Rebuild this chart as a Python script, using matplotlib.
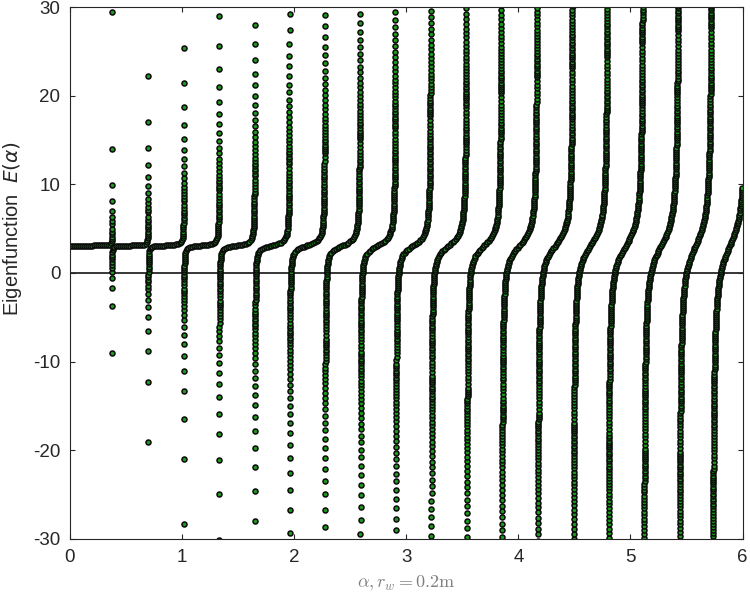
import numpy as np
import matplotlib
matplotlib.use('Agg')
from matplotlib import pyplot as plt

# pole positions of E(alpha) (0 and the one past the right edge bound the branches)
poles = [0.0, 0.377, 0.699, 1.017, 1.332, 1.651, 1.960, 2.276, 2.590, 2.907,
         3.222, 3.540, 3.852, 4.172, 4.490, 4.800, 5.117, 5.434, 5.730, 6.045]
plateau = 3.1          # flat level between the poles
amp_coef = 0.1         # branch steepness, grows like alpha**amp_power
amp_power = 1.92
alpha_step = 1e-4

x_ticks = [0, 1, 2, 3, 4, 5, 6]
y_ticks = [-30, -20, -10, 0, 10, 20, 30]

alpha = np.arange(0.00003, 6.0, alpha_step)
k = np.searchsorted(poles, alpha) - 1
p_lo = np.array(poles)[k]
p_hi = np.array(poles)[k + 1]
u = np.pi * (alpha - p_lo) / (p_hi - p_lo)
E = plateau - amp_coef * alpha ** amp_power / np.tan(u)

# only points inside the y range, thinned so markers sit ~2 px apart
vis = np.abs(E) <= 30.4
a_vis, e_vis = alpha[vis], E[vis]
px = a_vis * 112.08
py = e_vis * 8.867
keep = [0]
lx, ly = px[0], py[0]
for i in range(1, len(px)):
    if (px[i] - lx) ** 2 + (py[i] - ly) ** 2 >= 2.0 ** 2:
        keep.append(i)
        lx, ly = px[i], py[i]
a_pts, e_pts = a_vis[keep], e_vis[keep]

plt.rcParams['font.family'] = ['Liberation Sans', 'DejaVu Sans']
plt.rcParams['axes.unicode_minus'] = False
fig = plt.figure(figsize=(7.5, 5.99), dpi=100)
ax = fig.add_axes([0.0933, 0.1002, 0.8967, 0.8881])

ax.axhline(0, color='black', lw=1.1, zorder=1)
ax.plot(a_pts, e_pts, linestyle='none', marker='o', markersize=3.6,
        markerfacecolor='#1c9a1c', markeredgecolor='#0a0a0a',
        markeredgewidth=1.1, zorder=2)

ax.set_xlim(0, 6)
ax.set_ylim(-30, 30)
ax.set_xticks(x_ticks)
ax.set_yticks(y_ticks)
ax.tick_params(direction='in', top=True, right=True, length=3.5,
               width=0.8, color='#262626', labelsize=13.5,
               labelcolor='#262626', pad=7)
for s in ax.spines.values():
    s.set_color('#262626')
    s.set_linewidth(0.8)

ax.set_xlabel(r'$\alpha, r_w = \mathit{0.2}\mathrm{m}$', fontsize=13,
              color='#808080', math_fontfamily='cm', labelpad=6)
ax.set_ylabel(r'Eigenfunction  $E(\alpha)$', fontsize=14.5, color='#262626',
              math_fontfamily='dejavusans')
ax.yaxis.set_label_coords(-0.068, 0.583)

fig.savefig('out.png', dpi=100)
